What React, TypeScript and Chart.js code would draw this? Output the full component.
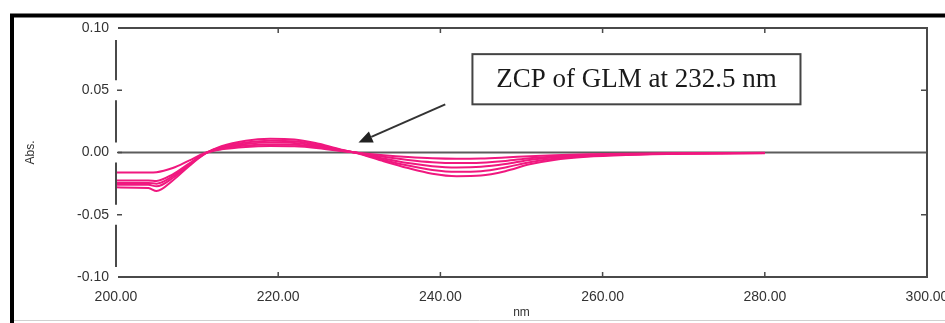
import React, { useEffect, useRef } from "react";
import { Chart, registerables } from "chart.js";

Chart.register(...registerables);

// Wavelengths (nm) at which each derivative spectrum is sampled
const WAVELENGTHS = [200, 204, 205, 207, 209, 211, 213, 216, 219, 222, 225, 228, 230, 233, 236, 239, 242, 245, 248, 251, 254, 258, 263, 270, 280];

// First-derivative absorbance spectra (five concentrations)
const SPECTRUM_1 = [-0.016, -0.016, -0.0158, -0.0125, -0.0065, -0.0004, 0.0025, 0.0045, 0.0052, 0.005, 0.0035, 0.001, -0.0004, -0.0022, -0.0036, -0.0046, -0.005, -0.0048, -0.004, -0.003, -0.0022, -0.0015, -0.001, -0.0006, -0.0003];
const SPECTRUM_2 = [-0.0225, -0.0225, -0.0228, -0.0175, -0.009, -0.0005, 0.0032, 0.0056, 0.0065, 0.0062, 0.0043, 0.0012, -0.0005, -0.0035, -0.006, -0.0078, -0.0085, -0.0082, -0.0068, -0.0046, -0.0032, -0.002, -0.0012, -0.0007, -0.0004];
const SPECTRUM_3 = [-0.0245, -0.0245, -0.025, -0.019, -0.0095, -0.0006, 0.0038, 0.0068, 0.008, 0.0076, 0.005, 0.0015, -0.0006, -0.0048, -0.0085, -0.011, -0.012, -0.0115, -0.0093, -0.006, -0.004, -0.0024, -0.0014, -0.0008, -0.0004];
const SPECTRUM_4 = [-0.026, -0.026, -0.0272, -0.0205, -0.0102, -0.0008, 0.0045, 0.008, 0.0095, 0.009, 0.006, 0.0018, -0.0008, -0.006, -0.0105, -0.014, -0.0155, -0.015, -0.012, -0.0078, -0.005, -0.003, -0.0017, -0.0009, -0.0005];
const SPECTRUM_5 = [-0.028, -0.0285, -0.031, -0.0225, -0.011, -0.001, 0.005, 0.0095, 0.011, 0.0105, 0.007, 0.002, -0.001, -0.007, -0.0125, -0.017, -0.019, -0.0185, -0.015, -0.0095, -0.006, -0.0035, -0.002, -0.001, -0.0006];

const SPECTRA = [SPECTRUM_1, SPECTRUM_2, SPECTRUM_3, SPECTRUM_4, SPECTRUM_5];

// Axis ranges and ticks
const X_MIN = 200;
const X_MAX = 300;
const X_STEP = 20;
const Y_MIN = -0.1;
const Y_MAX = 0.1;
const Y_STEP = 0.05;

// Annotation (data coordinates)
const ANNOTATION_TEXT = "ZCP of GLM at 232.5 nm";
const ANNOTATION_BOX_X = [243.95, 284.4];
const ANNOTATION_BOX_Y = [0.079, 0.0387];
const ARROW_TAIL = [240.6, 0.0387];
const ARROW_TIP = [229.9, 0.008];

const LINE_COLOR = "#f0187f";
const AXIS_COLOR = "#4a4a4a";

const framePlugin = {
  id: "frame",
  beforeDatasetsDraw(chart: any) {
    const { ctx, chartArea: a, scales } = chart;
    const y0 = scales.y.getPixelForValue(0);
    ctx.save();
    ctx.strokeStyle = "#5c5c5c";
    ctx.lineWidth = 2;
    ctx.beginPath();
    ctx.moveTo(a.left + 2, y0);
    ctx.lineTo(a.right, y0);
    ctx.stroke();
    ctx.restore();
  },
  afterDraw(chart: any) {
    const { ctx, chartArea: a, scales } = chart;
    const xs = scales.x;
    const ys = scales.y;
    ctx.save();
    // outer thick border
    ctx.strokeStyle = "#000";
    ctx.lineWidth = 4;
    ctx.beginPath();
    ctx.moveTo(12, 323);
    ctx.lineTo(12, 15.5);
    ctx.lineTo(945, 15.5);
    ctx.stroke();
    ctx.strokeStyle = "#d0d0d0";
    ctx.lineWidth = 1;
    ctx.beginPath();
    ctx.moveTo(14, 320.5);
    ctx.lineTo(945, 320.5);
    ctx.stroke();

    // plot frame: top, right, bottom
    ctx.strokeStyle = AXIS_COLOR;
    ctx.lineWidth = 2;
    ctx.beginPath();
    ctx.moveTo(a.left + 2, a.top);
    ctx.lineTo(a.right, a.top);
    ctx.lineTo(a.right, a.bottom);
    ctx.lineTo(a.left + 2, a.bottom);
    ctx.stroke();

    // left axis with gaps around inner labels
    const lx = a.left;
    const inner = [];
    for (let v = Y_MIN + Y_STEP; v < Y_MAX - 1e-9; v += Y_STEP) inner.push(ys.getPixelForValue(v));
    inner.sort((p: number, q: number) => p - q);
    let start = a.top + 12;
    ctx.beginPath();
    for (const p of inner) {
      ctx.moveTo(lx, start);
      ctx.lineTo(lx, p - 10);
      start = p + 10;
    }
    ctx.moveTo(lx, start);
    ctx.lineTo(lx, a.bottom - 10);
    ctx.stroke();

    // tick dashes
    ctx.lineWidth = 1.5;
    ctx.beginPath();
    for (const p of inner) {
      ctx.moveTo(lx + 1, p);
      ctx.lineTo(lx + 6, p);
    }
    for (let v = Y_MIN + Y_STEP; v < Y_MAX - 1e-9; v += Y_STEP) {
      if (Math.abs(v) < 1e-9) continue;
      const p = ys.getPixelForValue(v);
      ctx.moveTo(a.right - 6, p);
      ctx.lineTo(a.right, p);
    }
    for (let v = X_MIN + X_STEP; v < X_MAX - 1e-9; v += X_STEP) {
      const p = xs.getPixelForValue(v);
      ctx.moveTo(p, a.top);
      ctx.lineTo(p, a.top + 5);
      ctx.moveTo(p, a.bottom);
      ctx.lineTo(p, a.bottom - 5);
    }
    ctx.stroke();

    // arrow
    const tx = xs.getPixelForValue(ARROW_TAIL[0]);
    const ty = ys.getPixelForValue(ARROW_TAIL[1]);
    const hx = xs.getPixelForValue(ARROW_TIP[0]);
    const hy = ys.getPixelForValue(ARROW_TIP[1]);
    const ang = Math.atan2(hy - ty, hx - tx);
    const headLen = 14;
    const headW = 6;
    const bx = hx - headLen * Math.cos(ang);
    const by = hy - headLen * Math.sin(ang);
    ctx.strokeStyle = "#333";
    ctx.fillStyle = "#222";
    ctx.lineWidth = 2;
    ctx.beginPath();
    ctx.moveTo(tx, ty);
    ctx.lineTo(bx, by);
    ctx.stroke();
    ctx.beginPath();
    ctx.moveTo(hx, hy);
    ctx.lineTo(bx + headW * Math.sin(ang), by - headW * Math.cos(ang));
    ctx.lineTo(bx - headW * Math.sin(ang), by + headW * Math.cos(ang));
    ctx.closePath();
    ctx.fill();

    // annotation box
    const x1 = xs.getPixelForValue(ANNOTATION_BOX_X[0]);
    const x2 = xs.getPixelForValue(ANNOTATION_BOX_X[1]);
    const y1 = ys.getPixelForValue(ANNOTATION_BOX_Y[0]);
    const y2 = ys.getPixelForValue(ANNOTATION_BOX_Y[1]);
    ctx.fillStyle = "#fff";
    ctx.fillRect(x1, y1, x2 - x1, y2 - y1);
    ctx.strokeStyle = "#444";
    ctx.lineWidth = 2;
    ctx.strokeRect(x1, y1, x2 - x1, y2 - y1);
    ctx.fillStyle = "#1a1a1a";
    ctx.font = '27px "Liberation Serif", "Times New Roman", serif';
    ctx.textAlign = "center";
    ctx.textBaseline = "middle";
    ctx.fillText(ANNOTATION_TEXT, (x1 + x2) / 2, (y1 + y2) / 2 + 1);
    ctx.restore();
  },
};

export default function App() {
  const canvasRef = useRef<HTMLCanvasElement | null>(null);

  useEffect(() => {
    if (!canvasRef.current) return;
    const datasets = SPECTRA.map((s, i) => ({
      label: `Spectrum ${i + 1}`,
      data: WAVELENGTHS.map((w, j) => ({ x: w, y: s[j] })),
      borderColor: LINE_COLOR,
      borderWidth: 2,
      pointRadius: 0,
      fill: false,
      cubicInterpolationMode: "monotone" as const,
    }));
    const tickFont = { family: '"Liberation Sans", Arial, sans-serif', size: 14 };
    const chart = new Chart(canvasRef.current, {
      type: "line",
      data: { datasets },
      plugins: [framePlugin],
      options: {
        animation: false,
        responsive: false,
        maintainAspectRatio: false,
        layout: { padding: { left: 14, top: 28, right: 18, bottom: 0 } },
        plugins: { legend: { display: false }, tooltip: { enabled: false } },
        scales: {
          x: {
            type: "linear",
            min: X_MIN,
            max: X_MAX,
            grid: { display: false, drawTicks: false },
            border: { display: false },
            ticks: {
              stepSize: X_STEP,
              padding: 12,
              color: "#333",
              font: tickFont,
              maxRotation: 0,
              callback: (v: any) => Number(v).toFixed(2),
            },
            title: {
              display: true,
              text: "nm",
              color: "#333",
              font: { family: '"Liberation Sans", Arial, sans-serif', size: 12 },
              padding: { top: 0, bottom: 3 },
            },
            afterFit: (s: any) => {
              s.height = 46;
              s.paddingLeft = 0;
              s.paddingRight = 0;
            },
          },
          y: {
            type: "linear",
            min: Y_MIN,
            max: Y_MAX,
            grid: { display: false, drawTicks: false },
            border: { display: false },
            ticks: {
              stepSize: Y_STEP,
              padding: 7,
              color: "#333",
              font: tickFont,
              callback: (v: any) => Number(v).toFixed(2),
            },
            title: {
              display: true,
              text: "Abs.",
              color: "#333",
              font: { family: '"Liberation Sans", Arial, sans-serif', size: 12 },
              padding: { top: 9, bottom: 0 },
            },
            afterFit: (s: any) => {
              s.width = 102;
              s.paddingTop = 0;
              s.paddingBottom = 0;
            },
          },
        },
      },
    });
    return () => chart.destroy();
  }, []);

  return (
    <div style={{ position: "absolute", left: 0, top: 0, width: 945, height: 323, background: "#fff" }}>
      <canvas ref={canvasRef} width={945} height={323} style={{ display: "block" }} />
    </div>
  );
}
